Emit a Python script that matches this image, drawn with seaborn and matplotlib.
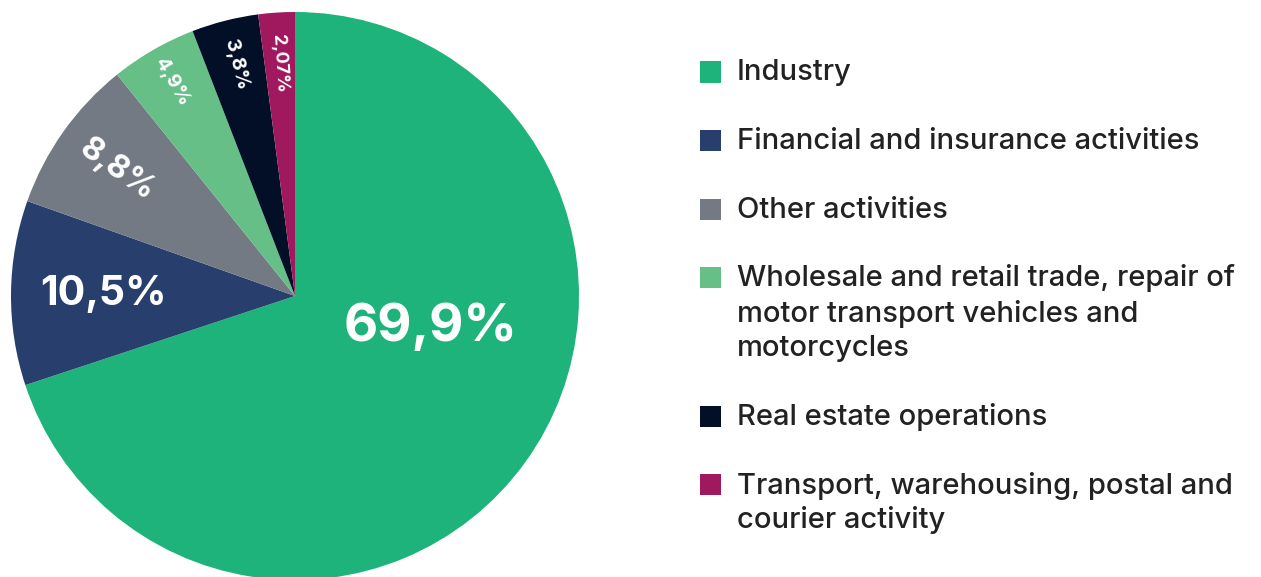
import numpy as np
import seaborn as sns
import matplotlib.pyplot as plt
from matplotlib.patches import Rectangle

sectors = ['Industry',
           'Financial and insurance activities',
           'Other activities',
           'Wholesale and retail trade, repair of\nmotor transport vehicles and\nmotorcycles',
           'Real estate operations',
           'Transport, warehousing, postal and\ncourier activity']
shares = [69.9, 10.5, 8.8, 4.9, 3.8, 2.07]
share_labels = ['69,9%', '10,5%', '8,8%', '4,9%', '3,8%', '2,07%']
hex_colors = ['#1db37a', '#283f6d', '#747a84', '#65bf87', '#020f27', '#a0195e']

sns.set_theme(style='white')
plt.rcParams['font.family'] = ['Inter', 'DejaVu Sans']
colors = sns.color_palette(hex_colors)

W, H = 1261, 577
fig = plt.figure(figsize=(W / 100, H / 100), dpi=100)

# pie axes: centre (295, 296) px from top-left, radius 284 px
R = 284
cx, cy = 295, H - 296
ax = fig.add_axes([(cx - R) / W, (cy - R) / H, 2 * R / W, 2 * R / H])
wedges, _ = ax.pie(shares, colors=colors, startangle=90, counterclock=False,
                   radius=1, wedgeprops=dict(linewidth=0))
ax.set_xlim(-1, 1)
ax.set_ylim(-1, 1)
ax.set_aspect('equal')
ax.axis('off')

# label radius and size per slice
label_r = [0.49, 0.676, 0.77, 0.87, 0.84, 0.82]
label_size = [38, 29.5, 23, 14, 14, 13]
for i, w in enumerate(wedges):
    mid = (w.theta1 + w.theta2) / 2
    if i == 0:
        ang = np.deg2rad(-13)
        rot = 0
    elif i == 1:
        ang = np.deg2rad(mid)
        rot = 0
    else:
        ang = np.deg2rad(mid)
        rot = mid - 180
    ax.text(label_r[i] * np.cos(ang), label_r[i] * np.sin(ang), share_labels[i],
            color='white', fontsize=label_size[i], fontweight='bold',
            ha='center', va='center', rotation=rot, rotation_mode='anchor')

# legend drawn manually in figure pixels
fs = 21
line_h = 35
gap = 68.5
y = 73
for i, name in enumerate(sectors):
    lines = name.split('\n')
    fig.patches.append(Rectangle((700 / W, (H - y - 9.5) / H), 21 / W, 21 / H,
                                 transform=fig.transFigure, color=colors[i], lw=0))
    for k, ln in enumerate(lines):
        fig.text(737 / W, (H - y - k * line_h) / H, ln, fontsize=fs,
                 fontweight='medium', color='#222222', ha='left', va='center')
    y += (len(lines) - 1) * line_h + gap

fig.savefig('out.png', dpi=100, facecolor='white')
